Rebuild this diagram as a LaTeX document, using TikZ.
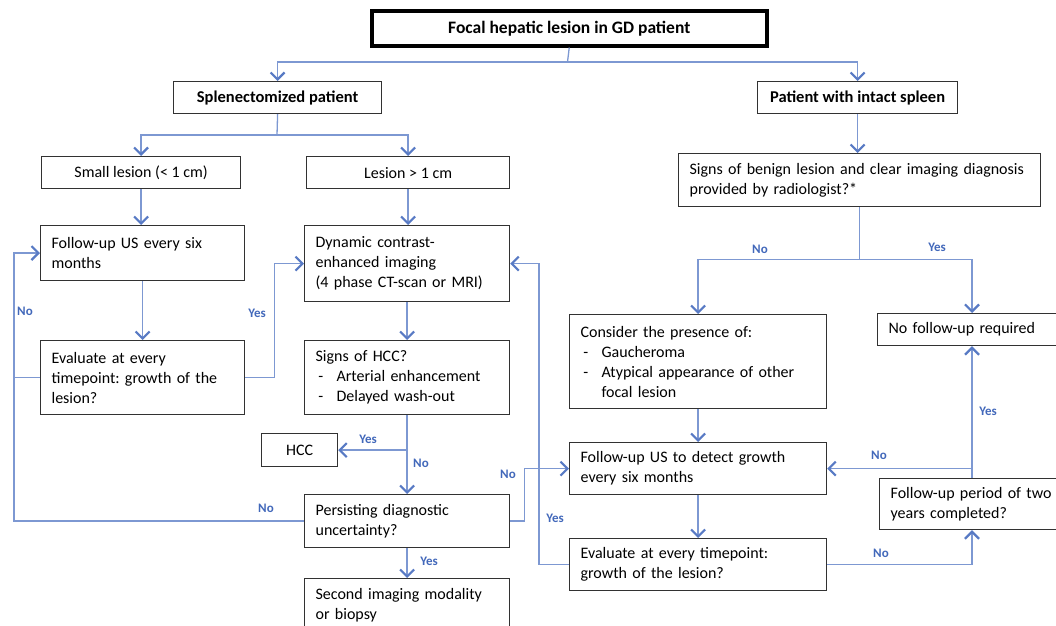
\documentclass[tikz,border=0pt]{standalone}
\usepackage{fontspec}
\setmainfont{Carlito}
\usetikzlibrary{arrows.meta,calc}
\definecolor{lineblue}{RGB}{125,152,210}
\definecolor{tipblue}{RGB}{88,122,196}
\definecolor{lblblue}{RGB}{66,104,186}
\definecolor{boxgray}{RGB}{50,50,50}
\newcommand\lstdash{\makebox[21pt][l]{\,-}}
\newcommand\lstind{\hspace*{21pt}}
\begin{document}
\frenchspacing
\begin{tikzpicture}[x=1pt,y=-1pt,
  box/.style={draw=boxgray, line width=1.2pt, anchor=north west, inner xsep=11pt, inner ysep=0pt, align=left, font=\fontsize{16}{20}\selectfont},
  cbox/.style={box, align=center, inner xsep=2pt},
  bbox/.style={cbox, font=\fontsize{16.5}{20}\selectfont\bfseries},
  conn/.style={draw=lineblue, line width=1.3pt},
  arr/.style={conn, -{Straight Barb[length=7pt,width=14pt,line width=2.2pt,color=tipblue]}},
  lbl/.style={text=lblblue, font=\fontsize{13}{15}\selectfont\bfseries, inner sep=0pt}
]
\useasboundingbox (0,0) rectangle (1056,625);

% boxes
\node[bbox, draw=black, line width=3.5pt, minimum width=395pt, minimum height=35pt, font=\fontsize{17.5}{20}\selectfont\bfseries] (top) at (370,9) {Focal hepatic lesion in GD patient};
\node[bbox, minimum width=208pt, minimum height=32pt] (splen) at (173,81) {Splenectomized patient};
\node[bbox, minimum width=200pt, minimum height=32pt] (intact) at (757,81) {Patient with intact spleen};
\node[cbox, minimum width=199pt, minimum height=32pt] (small) at (41,156) {Small lesion (< 1 cm)};
\node[cbox, minimum width=203pt, minimum height=32pt] (lesion1) at (306,156) {Lesion > 1 cm};
\node[box, minimum width=362pt, minimum height=53pt, text width=340pt] (signsB) at (678,153) {Signs of benign lesion and clear imaging diagnosis\\provided by radiologist?*};
\node[box, minimum width=204pt, minimum height=55pt, text width=182pt] (FUL) at (40,225) {Follow-up US every six\\months};
\node[box, minimum width=205pt, minimum height=76pt, text width=183pt] (dynamic) at (304,225) {Dynamic contrast-\\enhanced imaging\\(4 phase CT-scan or MRI)};
\node[box, minimum width=204pt, minimum height=74pt, text width=182pt] (evalL) at (40,340) {Evaluate at every\\timepoint: growth of the\\lesion?};
\node[box, minimum width=205pt, minimum height=74pt, text width=183pt] (signsHCC) at (304,340) {Signs of HCC?\\\lstdash Arterial enhancement\\\lstdash Delayed wash-out};
\node[cbox, minimum width=76pt, minimum height=33pt] (HCC) at (261,433) {HCC};
\node[box, minimum width=205pt, minimum height=53pt, text width=183pt] (persist) at (304,494) {Persisting diagnostic\\uncertainty?};
\node[box, minimum width=205pt, minimum height=54pt, text width=183pt] (second) at (304,578) {Second imaging modality\\or biopsy};
\node[box, minimum width=257pt, minimum height=94pt, text width=235pt] (consider) at (569,314) {Consider the presence of:\\\lstdash Gaucheroma\\\lstdash Atypical appearance of other\\\lstind focal lesion};
\node[box, minimum width=193pt, minimum height=32pt, text width=171pt] (nofollow) at (877,313) {No follow-up required};
\node[box, minimum width=257pt, minimum height=52pt, text width=235pt] (FUR) at (569,442) {Follow-up US to detect growth\\every six months};
\node[box, minimum width=257pt, minimum height=52pt, text width=235pt] (evalR) at (569,538) {Evaluate at every timepoint:\\growth of the lesion?};
\node[box, minimum width=191pt, minimum height=51pt, text width=169pt] (period) at (879,478) {Follow-up period of two\\years completed?};

% connectors
\coordinate (j1) at (567.5,62);
\draw[conn] (top.south) -- (j1);
\draw[arr] (j1) -| (splen.north);
\draw[arr] (j1) -| (intact.north);
\coordinate (j2) at (277,135);
\draw[conn] (splen.south) -- (j2);
\draw[arr] (j2) -| (small.north);
\draw[arr] (j2) -| (lesion1.north);
\draw[arr] (intact.south) -- (intact.south |- signsB.north);
\draw[arr] (small.south) -- (small.south |- FUL.north);
\draw[arr] (lesion1.south) -- (lesion1.south |- dynamic.north);
\draw[arr] (FUL.south) -- (evalL.north);
\draw[arr] (evalL.east) -- ++(29,0) |- (dynamic.west);
\coordinate (lx) at (14,0);
\draw[conn] (evalL.west) -- (lx |- evalL.west);
\draw[arr] (persist.west) -| (lx |- FUL.west) -- (FUL.west);
\draw[arr] (dynamic.south) -- (signsHCC.north);
\draw[arr] (signsHCC.south) -- (persist.north);
\draw[arr] (signsHCC.south |- HCC.east) -- (HCC.east);
\draw[arr] (persist.south) -- (second.north);
\draw[arr] (persist.east) -- ++(14,0) |- (FUR.west);
\draw[arr] (evalR.west) -- ++(-30,0) |- (dynamic.east);
\coordinate (j3) at ($(signsB.south)+(0,52)$);
\draw[conn] (signsB.south) -- (j3);
\draw[arr] (j3) -| (consider.north);
\coordinate (rx) at (972,0);
\draw[arr] (j3) -| (rx |- nofollow.north);
\draw[arr] (consider.south) -- (FUR.north);
\draw[arr] (FUR.south) -- (evalR.north);
\draw[arr] (evalR.east) -| (rx |- period.south);
\draw[arr] (rx |- period.north) -- (rx |- nofollow.south);
\draw[arr] (rx |- FUR.east) -- (FUR.east);

% labels
\node[lbl] (l1) at (257,313) {Yes};
\node[lbl] (l2) at (25,311) {No};
\node[lbl] (l3) at (266,508) {No};
\node[lbl] (l4) at (368,439) {Yes};
\node[lbl] (l5) at (421,463) {No};
\node[lbl] (l6) at (429,561) {Yes};
\node[lbl] (l7) at (508,474) {No};
\node[lbl] (l8) at (555,518) {Yes};
\node[lbl] (l9) at (760,249) {No};
\node[lbl] (l10) at (937,247) {Yes};
\node[lbl] (l11) at (988,411) {Yes};
\node[lbl] (l12) at (879,455) {No};
\node[lbl] (l13) at (881,553) {No};
\end{tikzpicture}
\end{document}
